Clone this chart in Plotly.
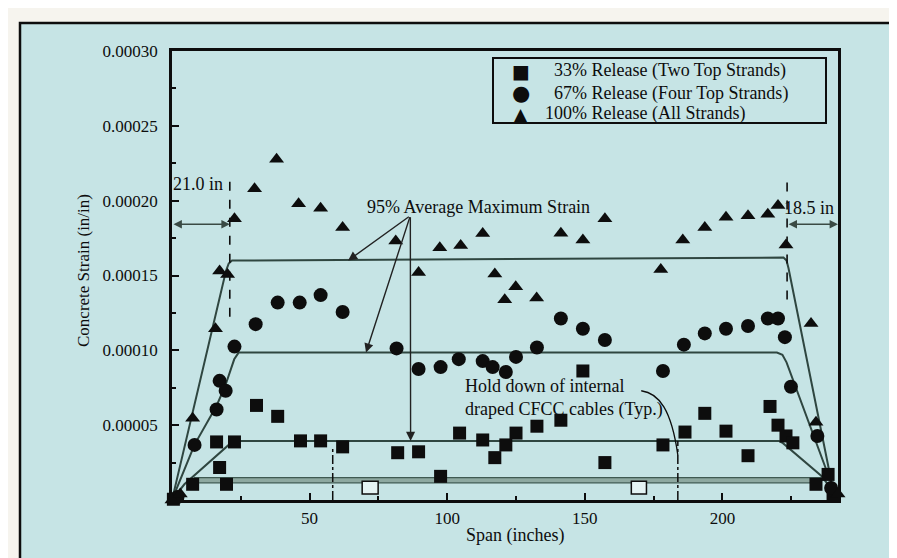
import plotly.graph_objects as go

# ---------------- data ----------------
span_33 = [0.5, 4.7, 7.5, 16.2, 17.3, 19.8, 22.7, 30.7, 38.4, 46.7, 54.0, 62.0, 82.0, 89.6, 97.6,
           104.5, 112.9, 117.3, 121.3, 125.0, 132.6, 141.3, 149.3, 157.3, 178.4, 186.4, 193.6,
           201.3, 209.3, 217.3, 220.2, 223.1, 225.6, 234.0, 238.4, 240.2]
strain_33 = [0.0000005, -0.000002, 0.0000105, 0.0000388, 0.0000217, 0.0000105, 0.0000388, 0.0000632,
             0.0000559, 0.0000395, 0.0000395, 0.0000355, 0.0000316, 0.0000322, 0.0000158,
             0.0000447, 0.0000401, 0.0000283, 0.0000368, 0.0000447, 0.0000493, 0.0000533,
             0.0000862, 0.0000250, 0.0000368, 0.0000454, 0.0000579, 0.0000460, 0.0000296,
             0.0000625, 0.0000500, 0.0000428, 0.0000382, 0.0000105, 0.0000171, 0.0000030]

span_67 = [2.0, 8.2, 16.2, 17.3, 19.5, 22.7, 30.4, 38.4, 46.4, 54.0, 62.0, 81.6, 89.6, 97.6, 104.2,
           112.9, 116.5, 121.3, 125.0, 132.6, 141.3, 149.3, 157.3, 178.4, 186.0, 193.6, 201.3,
           209.3, 216.5, 220.2, 222.7, 224.9, 234.5, 239.5]
strain_67 = [0.000002, 0.0000368, 0.0000605, 0.0000796, 0.0000730, 0.0001025, 0.0001175, 0.0001319,
             0.0001319, 0.0001369, 0.0001256, 0.0001013, 0.0000875, 0.0000888, 0.0000941,
             0.0000928, 0.0000888, 0.0000855, 0.0000956, 0.0001019, 0.0001213, 0.0001144,
             0.0001069, 0.0000862, 0.0001038, 0.0001113, 0.0001144, 0.0001163, 0.0001213,
             0.0001213, 0.0001088, 0.0000757, 0.0000428, 0.0000080]

span_100 = [0.0, 3.0, 7.5, 15.8, 17.3, 20.2, 22.7, 30.0, 38.0, 46.0, 54.0, 62.0, 81.3, 89.6, 97.3,
            104.9, 112.9, 117.3, 120.9, 124.9, 132.5, 141.3, 149.3, 157.3, 177.6, 185.6, 193.6,
            201.3, 209.3, 216.5, 220.2, 223.1, 232.2, 234.0, 242.0]
strain_100 = [0.0, 0.000004, 0.0000546, 0.0001144, 0.0001530, 0.0001506, 0.0001880, 0.0002080,
              0.0002276, 0.0001980, 0.0001950, 0.0001820, 0.0001730, 0.0001520, 0.0001685,
              0.0001700, 0.0001780, 0.0001510, 0.0001338, 0.0001425, 0.0001350, 0.0001783,
              0.0001737, 0.0001880, 0.0001540, 0.0001737, 0.0001820, 0.0001890, 0.0001900,
              0.0001910, 0.0001967, 0.0001704, 0.0001180, 0.0000520, 0.0000040]

# 95% average maximum strain lines
fit_span_100 = [0, 19.6, 20.6, 21.8, 222.2, 223.3, 224.0, 240.5]
fit_strain_100 = [0, 0.000153, 0.000158, 0.000160, 0.000162, 0.000160, 0.000155, 0.000004]
fit_span_67 = [0, 8.2, 16.2, 19.3, 22.6, 24.2, 219.8, 221.8, 223.3, 241.0]
fit_strain_67 = [0, 0.000037, 0.000063, 0.000076, 0.000094, 0.0000985, 0.0000985, 0.000097,
                 0.000092, 0.000004]
fit_span_33 = [0, 4.5, 21.0, 23.5, 220.5, 222.0, 236.0, 241.0]
fit_strain_33 = [0, 0.0000105, 0.0000375, 0.0000395, 0.0000395, 0.000038, 0.000016, 0.000004]

band_span = [8, 236]
band_low = [0.0000115, 0.0000115]
band_high = [0.0000150, 0.0000150]

x_tick_vals = [50, 100, 150, 200]
x_tick_text = ["50", "100", "150", "200"]
x_minor_vals = [25, 75, 125, 175, 225]
y_tick_vals = [0.00005, 0.00010, 0.00015, 0.00020, 0.00025, 0.00030]
y_tick_text = ["0.00005", "0.00010", "0.00015", "0.00020", "0.00025", "0.00030"]
y_minor_vals = [0.000025, 0.000075, 0.000125, 0.000175, 0.000225, 0.000275]

legend_names = ["\u00a0\u00a033% Release (Two Top Strands)",
                "\u00a0\u00a067% Release (Four Top Strands)",
                "100% Release (All Strands)"]
legend_glyphs = ["\u25a0", "\u25cf", "\u25b2"]

# ---------------- geometry / style ----------------
W, H = 897, 558
L, R, T, B = 164, 67, 43, 66
PW, PH = W - L - R, H - T - B
FONT = "Liberation Serif, Times New Roman, serif"
TEAL = "#c6e4e5"
LINE = "#2f4640"
INK = "#0d0d0d"


def xp(px):
    return (px - L) / PW


def yp(py):
    return (H - B - py) / PH


fig = go.Figure()

# band (double line)
fig.add_trace(go.Scatter(x=band_span, y=band_low, mode="lines",
                         line=dict(color="#3f5a52", width=1.2), showlegend=False, hoverinfo="skip"))
fig.add_trace(go.Scatter(x=band_span, y=band_high, mode="lines", fill="tonexty",
                         fillcolor="#8ea9a1", line=dict(color="#3f5a52", width=1.2),
                         showlegend=False, hoverinfo="skip"))

for fx, fy in [(fit_span_100, fit_strain_100), (fit_span_67, fit_strain_67), (fit_span_33, fit_strain_33)]:
    fig.add_trace(go.Scatter(x=fx, y=fy, mode="lines", line=dict(color=LINE, width=2),
                             showlegend=False, hoverinfo="skip"))

fig.add_trace(go.Scatter(x=span_33, y=strain_33, mode="markers", name=legend_names[0].strip("\u00a0"),
                         marker=dict(symbol="square", size=13, color=INK), cliponaxis=False,
                         showlegend=False))
fig.add_trace(go.Scatter(x=span_67, y=strain_67, mode="markers", name=legend_names[1].strip("\u00a0"),
                         marker=dict(symbol="circle", size=14, color=INK), cliponaxis=False,
                         showlegend=False))
fig.add_trace(go.Scatter(x=span_100, y=strain_100, mode="markers", name=legend_names[2],
                         marker=dict(symbol="triangle-up", size=13, color=INK), cliponaxis=False,
                         showlegend=False))

shapes = [
    # outer frame with teal background
    dict(type="rect", xref="paper", yref="paper", x0=xp(12), x1=xp(893), y0=yp(562), y1=yp(15),
         fillcolor=TEAL, line=dict(color=INK, width=2.5), layer="below"),
    # legend box
    dict(type="rect", xref="paper", yref="paper", x0=xp(485), x1=xp(818), y0=yp(115), y1=yp(50),
         line=dict(color=INK, width=2), fillcolor="rgba(0,0,0,0)"),
    # hold-down boxes
    dict(type="rect", x0=69.1, x1=74.9, y0=0.000004, y1=0.0000125,
         fillcolor="#e4f3f3", line=dict(color=INK, width=1.5)),
    dict(type="rect", x0=166.9, x1=172.4, y0=0.000004, y1=0.0000125,
         fillcolor="#e4f3f3", line=dict(color=INK, width=1.5)),
    # dash-dot hold-down lines
    dict(type="line", x0=58.4, x1=58.4, y0=0, y1=0.000036,
         line=dict(color=INK, width=1.5, dash="dashdot")),
    dict(type="line", x0=183.8, x1=183.8, y0=0, y1=0.0000395,
         line=dict(color=INK, width=1.5, dash="dashdot")),
    # dashed transfer-length lines
    dict(type="line", x0=21, x1=21, y0=0.0001225, y1=0.0002164,
         line=dict(color=INK, width=1.6, dash="dash")),
    dict(type="line", x0=223.5, x1=223.5, y0=0.000134, y1=0.000213,
         line=dict(color=INK, width=1.6, dash="dash")),
    # curved leader for hold-down note
    dict(type="path", path="M 170.5,0.000073 C 177,0.0000715 181.5,0.00006 183.8,0.00003",
         line=dict(color=INK, width=1.3)),
]

annotations = [
    dict(x=xp(75), y=yp(262), xref="paper", yref="paper", text="Concrete Strain (in/in)",
         xanchor="center", yanchor="middle",
         textangle=-90, showarrow=False, font=dict(size=17, family=FONT, color=INK)),
    dict(x=xp(507), y=yp(527), xref="paper", yref="paper", text="Span (inches)",
         xanchor="center", yanchor="middle",
         showarrow=False, font=dict(size=18, family=FONT, color=INK)),
    dict(x=19.3, y=0.000211, text="21.0 in", xanchor="right", yanchor="middle", showarrow=False,
         font=dict(size=18, family=FONT, color=INK)),
    dict(x=241.4, y=0.0001954, text="18.5 in", xanchor="right", yanchor="middle", showarrow=False,
         font=dict(size=18, family=FONT, color=INK)),
    dict(x=70.2, y=0.0001955, text="95% Average Maximum Strain", xanchor="left", yanchor="middle",
         showarrow=False, font=dict(size=18, family=FONT, color=INK)),
    dict(x=105.8, y=0.0000684, text="Hold down of internal<br>draped CFCC cables (Typ.)",
         xanchor="left", yanchor="middle", align="left", showarrow=False,
         font=dict(size=18, family=FONT, color=INK)),
]

# manual legend (rows as in the reference)
legend_rows_py = [63, 85, 106]
glyph_sizes = [19, 21, 17]
for name, glyph, gs, py in zip(legend_names, legend_glyphs, glyph_sizes, legend_rows_py):
    annotations.append(dict(x=xp(513), y=yp(py), xref="paper", yref="paper", text=glyph,
                            xanchor="center", yanchor="middle", showarrow=False,
                            font=dict(size=gs, family="DejaVu Sans", color=INK)))
    annotations.append(dict(x=xp(535), y=yp(py), xref="paper", yref="paper", text=name,
                            xanchor="left", yanchor="middle", showarrow=False,
                            font=dict(size=18, family=FONT, color=INK)))

# arrows from the "95%" label to the three lines
for hx, hy in [(64, 0.00016), (70.5, 0.0000985), (86.7, 0.0000395)]:
    annotations.append(dict(x=hx, y=hy, ax=86.6, ay=0.000190, axref="x", ayref="y", text="",
                            showarrow=True, arrowhead=2, arrowsize=1.3, arrowwidth=1.4,
                            arrowcolor="#222222", standoff=0, startstandoff=0))
# double-headed dimension arrows
for x0, x1, yy in [(0, 21, 0.0001842), (223.5, 242, 0.0001842)]:
    annotations.append(dict(x=x1, y=yy, ax=x0, ay=yy, axref="x", ayref="y", text="",
                            showarrow=True, arrowhead=2, arrowside="end+start", arrowsize=1.2,
                            arrowwidth=1.4, arrowcolor="#3a4a44", standoff=0, startstandoff=0))

fig.update_layout(
    width=W, height=H,
    margin=dict(l=L, r=R, t=T, b=B),
    paper_bgcolor="#f6f4ee",
    plot_bgcolor="rgba(0,0,0,0)",
    font=dict(family=FONT, size=18, color=INK),
    showlegend=False,
    shapes=shapes,
    annotations=annotations,
    xaxis=dict(range=[0, 242], tickvals=x_tick_vals, ticktext=x_tick_text,
               ticks="inside", ticklen=7, tickwidth=2, tickcolor=INK,
               minor=dict(tickvals=x_minor_vals, ticks="inside", ticklen=4, tickwidth=2, tickcolor=INK),
               showline=True, linewidth=2.5, linecolor=INK, mirror=True,
               showgrid=False, zeroline=False, ticklabelstandoff=1,
               tickfont=dict(size=17, family=FONT, color=INK)),
    yaxis=dict(range=[0, 0.0003], tickvals=y_tick_vals, ticktext=y_tick_text,
               ticks="inside", ticklen=7, tickwidth=2, tickcolor=INK,
               minor=dict(tickvals=y_minor_vals, ticks="inside", ticklen=4, tickwidth=2, tickcolor=INK),
               showline=True, linewidth=2.5, linecolor=INK, mirror=True,
               showgrid=False, zeroline=False, ticklabelstandoff=8,
               tickfont=dict(size=17, family=FONT, color=INK)),
)

fig.write_html("out.html")
